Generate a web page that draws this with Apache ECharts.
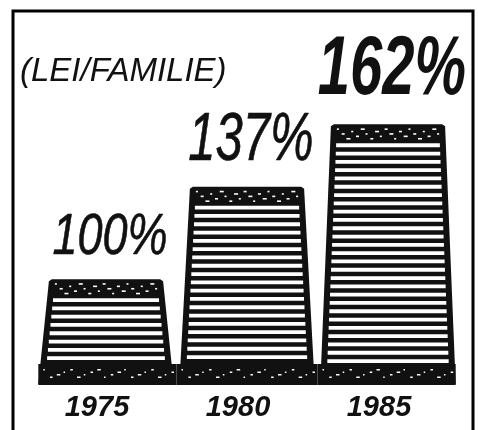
<!DOCTYPE html>
<html><head><meta charset="utf-8">
<script src="https://cdn.jsdelivr.net/npm/echarts@6/dist/echarts.min.js"></script>
<style>html,body{margin:0;padding:0;background:#fff}#c{width:478px;height:430px}</style>
</head><body><div id="c"></div>
<script>
const categories = ['1975', '1980', '1985'];
const values = [100, 137, 162];
const valueLabels = ['100%', '137%', '162%'];
const unitLabel = '(LEI/FAMILIE)';

const labelFontSizes = [45, 49, 58];
const labelScaleY = [1.28, 1.4, 1.45];
const labelWeights = ['normal', 'normal', 'bold'];
const Y_MIN = 58, Y_MAX = 203;
const FONT = '"Liberation Sans", Arial, sans-serif';
const INK = '#111';

const chart = echarts.init(document.getElementById('c'), null, {renderer: 'canvas'});

function renderBar(params, api) {
  const i = params.dataIndex;
  const n = categories.length;
  const v = api.value(1);
  const top = api.coord([i, v]);
  const base = api.coord([i, Y_MIN]);
  const band = api.size([1, 0])[0];
  const cx = top[0], yT = top[1], yB = base[1];
  const halfB = band * 0.48, halfT = band * 0.405;
  const children = [];
  children.push({type: 'polygon', shape: {points: [[cx - halfB, yB], [cx - halfT, yT + 2], [cx - halfT + 3, yT], [cx + halfT - 3, yT], [cx + halfT, yT + 2], [cx + halfB, yB]]},
    style: {fill: INK}});
  // stripes
  const bandH = 19;
  for (let y = yT + bandH; y < yB - 22; y += 8.3) {
    const f = (y - yT) / (yB - yT);
    const half = halfT + (halfB - halfT) * f - 6;
    children.push({type: 'rect', shape: {x: cx - half, y: y, width: 2 * half, height: 3.8}, style: {fill: '#fff'}});
  }
  // speckles in top band
  for (let k = 0; k < 22; k++) {
    const x = cx - halfT + 6 + k * (2 * halfT - 14) / 21;
    const y = yT + 4 + ((k * 7) % 5) * 2.4;
    children.push({type: 'rect', shape: {x: x, y: y, width: 2 + (k % 3), height: 1.6}, style: {fill: '#fff'}});
  }
  // base band
  const left = i === 0 ? cx - halfB : cx - band / 2;
  const right = i === n - 1 ? cx + halfB : cx + band / 2;
  children.push({type: 'rect', shape: {x: left, y: yB - 20, width: right - left, height: 21}, style: {fill: INK}});
  for (let k = 0; k < 20; k++) {
    const x = left + 5 + k * (right - left - 10) / 19;
    const y = yB - 15 + ((k * 3) % 4) * 2.5;
    children.push({type: 'rect', shape: {x: x, y: y, width: 1.5 + (k % 3), height: 1.5}, style: {fill: '#fff'}});
  }
  // value label
  children.push({type: 'text', x: cx + 4, y: yT - 12, scaleY: labelScaleY[i], originX: 0, originY: 0,
    style: {
      x: 0, y: 0, text: valueLabels[i], align: 'center', verticalAlign: 'bottom',
      font: 'italic ' + labelWeights[i] + ' ' + labelFontSizes[i] + 'px ' + FONT, fill: INK,
      stroke: INK, lineWidth: i < 2 ? 0.5 : 0
    }});
  return {type: 'group', children: children};
}

chart.setOption({
  animation: false,
  grid: {left: 35.5, right: 19.5, top: 22, bottom: 46},
  xAxis: {type: 'category', data: categories,
    axisLine: {show: false}, axisTick: {show: false}, splitLine: {show: false},
    axisLabel: {margin: 9, color: INK, fontSize: 29, fontStyle: 'italic', fontWeight: 'bold', fontFamily: FONT,
      padding: [0, 18, 0, 0]}},
  yAxis: {type: 'value', min: Y_MIN, max: Y_MAX, show: false},
  graphic: [
    {type: 'rect', shape: {x: 13, y: 11, width: 460, height: 440}, style: {fill: 'none', stroke: '#000', lineWidth: 3}},
    {type: 'text', x: 20, y: 55, style: {text: unitLabel, font: 'italic 33px ' + FONT, fill: INK}}
  ],
  series: [{
    type: 'custom',
    renderItem: renderBar,
    data: values.map((v, i) => [i, v]),
    encode: {x: 0, y: 1}
  }]
});
</script>
</body></html>
